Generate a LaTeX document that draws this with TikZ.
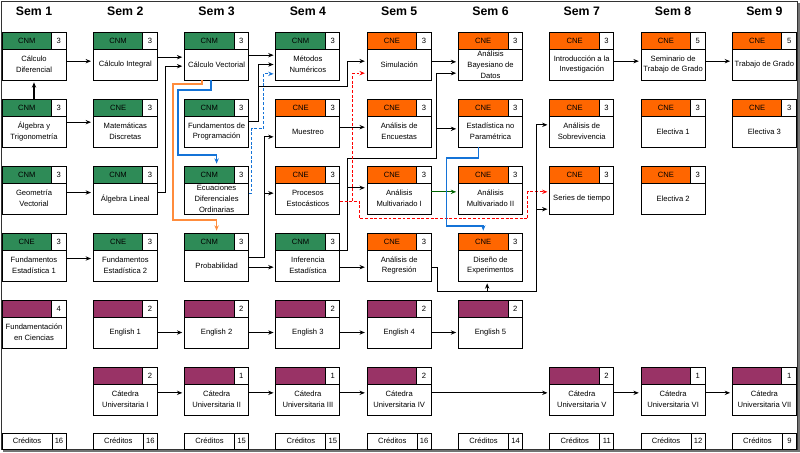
\documentclass[tikz,border=0pt]{standalone}
\usepackage{fontspec}
\setmainfont{Liberation Sans}
\usetikzlibrary{arrows.meta, positioning, calc}
\definecolor{cnm}{RGB}{46,139,87}
\definecolor{cne}{RGB}{255,102,0}
\definecolor{hum}{RGB}{153,51,102}
\definecolor{azul}{RGB}{20,115,215}
\definecolor{naranja}{RGB}{255,140,60}
\definecolor{verdeosc}{RGB}{0,100,0}
\tikzset{
  body/.style={draw, line width=0.75pt, fill=white, minimum width=19.2mm, minimum height=9.3mm,
    inner sep=0pt, outer sep=0pt, align=center, font=\fontsize{6.5}{9.3}\selectfont},
  hdr/.style={draw, line width=0.75pt, fill=#1, minimum width=14.85mm, minimum height=5.1mm,
    inner sep=0pt, outer sep=0pt, font=\fontsize{6.5}{8}\selectfont},
  num/.style={draw, line width=0.75pt, fill=white, minimum width=4.35mm, minimum height=5.1mm,
    inner sep=0pt, outer sep=0pt, font=\fontsize{6.5}{8}\selectfont},
  crd/.style={draw, line width=0.75pt, fill=white, minimum width=15mm, minimum height=4.8mm,
    inner sep=0pt, outer sep=0pt, font=\fontsize{6.5}{8}\selectfont},
  crn/.style={crd, minimum width=4.2mm},
  semtitle/.style={font=\fontsize{10.5}{12}\selectfont\bfseries},
  arr/.style={-{Stealth[length=1.6mm, width=1.3mm]}, line width=1pt, shorten >=2pt},
  dsh/.style={dash pattern=on 2.5pt off 1.5pt},
}
% name, column, row, colour, area, credits, text
\newcommand{\materia}[7]{%
  \node[body] (#1) at ({34+91.3*(#2-1)},{64.5+67*(#3-1)}) {#7};
  \node[hdr=#4, anchor=south west] (#1-h) at (#1.north west) {#5};
  \node[num, anchor=south east] (#1-n) at (#1.north east) {#6};
}

\begin{document}
\begin{tikzpicture}[x=0.3mm, y=-0.3mm]
  \useasboundingbox (0,0) rectangle (800,452);
  \draw[black!55, line width=1.2pt] (3,451) -- (799,451) -- (799,3);
  \draw[black!80, line width=0.6pt] (1,1) rectangle (797.5,449.5);

  % semesters
  \foreach \i in {1,...,9}
    \node[semtitle] (s\i) at ({34+91.3*(\i-1)},11) {Sem \i};

  % row 1
  \materia{cdif}{1}{1}{cnm}{CNM}{3}{Cálculo\\Diferencial}
  \materia{cint}{2}{1}{cnm}{CNM}{3}{Cálculo Integral}
  \materia{cvec}{3}{1}{cnm}{CNM}{3}{Cálculo Vectorial}
  \materia{mnum}{4}{1}{cnm}{CNM}{3}{Métodos\\Numéricos}
  \materia{sim}{5}{1}{cne}{CNE}{3}{Simulación}
  \materia{bay}{6}{1}{cne}{CNE}{3}{Análisis\\Bayesiano de\\Datos}
  \materia{intro}{7}{1}{cne}{CNE}{3}{Introducción a la\\Investigación}
  \materia{semg}{8}{1}{cne}{CNE}{5}{Seminario de\\Trabajo de Grado}
  \materia{tg}{9}{1}{cne}{CNE}{5}{Trabajo de Grado}
  % row 2
  \materia{alg}{1}{2}{cnm}{CNM}{3}{Álgebra y\\Trigonometría}
  \materia{mdis}{2}{2}{cnm}{CNE}{3}{Matemáticas\\Discretas}
  \materia{fprog}{3}{2}{cnm}{CNM}{3}{Fundamentos de\\Programación}
  \materia{mue}{4}{2}{cne}{CNE}{3}{Muestreo}
  \materia{enc}{5}{2}{cne}{CNE}{3}{Análisis de\\Encuestas}
  \materia{nopar}{6}{2}{cne}{CNE}{3}{Estadística no\\Paramétrica}
  \materia{sobr}{7}{2}{cne}{CNE}{3}{Análisis de\\Sobrevivencia}
  \materia{el1}{8}{2}{cne}{CNE}{3}{Electiva 1}
  \materia{el3}{9}{2}{cne}{CNE}{3}{Electiva 3}
  % row 3
  \materia{geo}{1}{3}{cnm}{CNM}{3}{Geometría\\Vectorial}
  \materia{alin}{2}{3}{cnm}{CNM}{3}{Álgebra Lineal}
  \materia{edo}{3}{3}{cnm}{CNM}{3}{Ecuaciones\\Diferenciales\\Ordinarias}
  \materia{proc}{4}{3}{cne}{CNE}{3}{Procesos\\Estocásticos}
  \materia{mv1}{5}{3}{cne}{CNE}{3}{Análisis\\Multivariado I}
  \materia{mv2}{6}{3}{cne}{CNE}{3}{Análisis\\Multivariado II}
  \materia{series}{7}{3}{cne}{CNE}{3}{Series de tiempo}
  \materia{el2}{8}{3}{cne}{CNE}{3}{Electiva 2}
  % row 4
  \materia{fe1}{1}{4}{cnm}{CNE}{3}{Fundamentos\\Estadística 1}
  \materia{fe2}{2}{4}{cnm}{CNE}{3}{Fundamentos\\Estadística 2}
  \materia{prob}{3}{4}{cnm}{CNM}{3}{Probabilidad}
  \materia{inf}{4}{4}{cnm}{CNM}{3}{Inferencia\\Estadística}
  \materia{reg}{5}{4}{cne}{CNE}{3}{Análisis de\\Regresión}
  \materia{dex}{6}{4}{cne}{CNE}{3}{Diseño de\\Experimentos}
  % row 5
  \materia{fc}{1}{5}{hum}{}{4}{Fundamentación\\en Ciencias}
  \materia{en1}{2}{5}{hum}{}{2}{English 1}
  \materia{en2}{3}{5}{hum}{}{2}{English 2}
  \materia{en3}{4}{5}{hum}{}{2}{English 3}
  \materia{en4}{5}{5}{hum}{}{2}{English 4}
  \materia{en5}{6}{5}{hum}{}{2}{English 5}
  % row 6
  \materia{cu1}{2}{6}{hum}{}{2}{Cátedra\\Universitaria I}
  \materia{cu2}{3}{6}{hum}{}{1}{Cátedra\\Universitaria II}
  \materia{cu3}{4}{6}{hum}{}{1}{Cátedra\\Universitaria III}
  \materia{cu4}{5}{6}{hum}{}{2}{Cátedra\\Universitaria IV}
  \materia{cu5}{7}{6}{hum}{}{2}{Cátedra\\Universitaria V}
  \materia{cu6}{8}{6}{hum}{}{1}{Cátedra\\Universitaria VI}
  \materia{cu7}{9}{6}{hum}{}{1}{Cátedra\\Universitaria VII}

  % credits
  \foreach \i/\c in {1/16, 2/16, 3/15, 4/15, 5/16, 6/14, 7/11, 8/12, 9/9} {
    \node[crd, anchor=north west] (cr\i) at ({2+91.3*(\i-1)},433) {Créditos};
    \node[crn, anchor=north west] (crn\i) at (cr\i.north east) {\c};
  }

  % straight prerequisites
  \draw[arr] (alg-h.north -| alg) -- (cdif.south);
  \draw[arr] ([yshift=1mm]cdif.east) -- ([yshift=1mm]cint.west);
  \draw[arr] ([yshift=2.2mm]cint.east) -- ([yshift=2.2mm]cvec.west);
  \draw[arr] ([yshift=2.8mm]cvec.east) -- ([yshift=2.8mm]mnum.west);
  \draw[arr] ([yshift=0.8mm]sim.east) -- ([yshift=0.8mm]bay.west);
  \draw[arr] ([yshift=1mm]intro.east) -- ([yshift=1mm]semg.west);
  \draw[arr] ([yshift=1mm]semg.east) -- ([yshift=1mm]tg.west);
  \draw[arr] ([yshift=2.8mm]alg.east) -- ([yshift=2.8mm]mdis.west);
  \draw[arr] ([yshift=1.3mm]mue.east) -- ([yshift=1.3mm]enc.west);
  \draw[arr] ([yshift=1.8mm]geo.east) -- ([yshift=1.8mm]alin.west);
  \draw[arr, draw=verdeosc] ([yshift=2mm]mv1.east) -- ([yshift=2mm]mv2.west);
  \draw[arr] ([yshift=2.1mm]fe1.east) -- ([yshift=2.1mm]fe2.west);
  \draw[arr] ([yshift=-0.5mm]prob.east) -- ([yshift=-0.5mm]inf.west);
  \draw[arr] ([yshift=-0.5mm]inf.east) -- ([yshift=-0.5mm]reg.west);
  \draw[arr] (en1) -- (en2);
  \draw[arr] (en2) -- (en3);
  \draw[arr] (en3) -- (en4);
  \draw[arr] (en4) -- (en5);
  \draw[arr] ([yshift=2mm]cu1.east) -- ([yshift=2mm]cu2.west);
  \draw[arr] ([yshift=2mm]cu2.east) -- ([yshift=2mm]cu3.west);
  \draw[arr] ([yshift=2mm]cu3.east) -- ([yshift=2mm]cu4.west);
  \draw[arr] ([yshift=2mm]cu4.east) -- ([yshift=2mm]cu5.west);
  \draw[arr] ([yshift=2mm]cu5.east) -- ([yshift=2mm]cu6.west);
  \draw[arr] ([yshift=2mm]cu6.east) -- ([yshift=2mm]cu7.west);

  % bent prerequisites
  \draw[arr] ([yshift=1.8mm]alin.east) -- ++(8,0) |- ([yshift=-0.5mm]cvec.west);
  \draw[arr] ([yshift=3mm]fprog.east) -- ++(10,0) |- (mnum.west);
  \draw[arr] ([yshift=3mm]fprog.east) -- ++(10,0) -- ++(0,-35) -- ++(89,0) |- ([yshift=1mm]sim.west);
  \draw[arr, draw=azul, dsh] ([yshift=1.6mm]edo.east) -- ++(3,0) -- ++(0,-65) -- ++(12,0) |- ([yshift=-2.8mm]mnum.west);
  \draw[arr] ([yshift=2.4mm]prob.east) -- ++(16,0) |- ([yshift=-1.6mm]mue.west);
  \draw[arr] ([yshift=2.4mm]prob.east) -- ++(16,0) |- ([yshift=1.6mm]proc.west);
  \draw[arr, draw=azul] ([xshift=-1.7mm]cvec.south) -- ++(0,10) -- ++(-33,0) -- ++(0,65) -| (edo-h.north -| edo);
  \draw[arr, draw=naranja] ([xshift=-4.4mm]cvec.south) -- ++(0,4) -- ++(-29,0) -- ++(0,136) -| (prob-h.north -| prob);
  \draw[arr] ([yshift=4.5mm]inf.east) -- ++(8,0) |- ([yshift=3.2mm]mv1.west);
  \draw[arr] ([yshift=4.5mm]inf.east) -- ++(8,0) -- ++(0,-92) -- ++(89,0) |- ([yshift=0.8mm]nopar.west);
  \draw[arr] ([yshift=4.5mm]inf.east) -- ++(8,0) -- ++(0,-92) -- ++(89,0) |- ([yshift=-2.6mm]bay.west);
  \draw[arr, draw=red, dsh] ([yshift=-1mm]proc.east) -- ++(13,0) |- ([yshift=-2.6mm]sim.west);
  \draw[arr, draw=red, dsh] ([yshift=-1mm]proc.east) -- ++(20,0) -- ++(0,17) -- ++(168,0) |- ([yshift=2mm]series.west);
  \draw[arr, draw=azul] ([xshift=-3.5mm]nopar.south) -- ++(0,11) -- ++(-32,0) -- ++(0,68) -| (dex-h.north);
  \draw[arr] ([yshift=-0.5mm]reg.east) -- ++(6,0) -- ++(0,24) -| ([xshift=-1mm]dex.south);
  \draw[arr] ([yshift=-0.5mm]reg.east) -- ++(6,0) -- ++(0,24) -- ++(99,0) |- ([yshift=-3.2mm]series.west);
  \draw[arr] ([yshift=-0.5mm]reg.east) -- ++(6,0) -- ++(0,24) -- ++(99,0) |- ([yshift=2mm]sobr.west);
\end{tikzpicture}
\end{document}
